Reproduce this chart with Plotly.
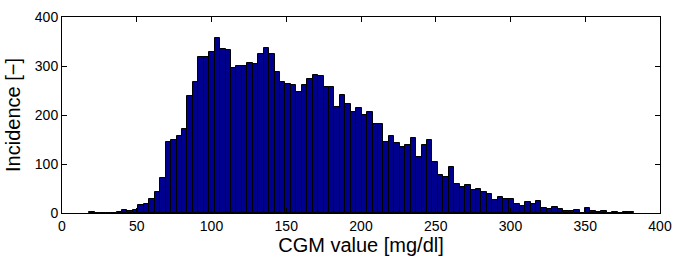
import plotly.graph_objects as go

# Histogram data (100 bins)
bin_start = 18.3
bin_width = 3.643
counts = [3, 1, 1, 1, 0, 2, 6, 5, 6, 17,
          19, 29, 42, 71, 145, 148, 158, 171, 238, 268,
          318, 318, 328, 357, 335, 332, 295, 299, 299, 307,
          305, 324, 337, 325, 288, 267, 264, 262, 246, 261,
          274, 281, 279, 257, 257, 217, 240, 223, 206, 215,
          200, 206, 182, 182, 145, 157, 142, 134, 139, 153,
          115, 139, 148, 104, 77, 73, 93, 60, 53, 57,
          46, 48, 43, 39, 26, 32, 29, 29, 18, 15,
          22, 19, 24, 10, 9, 12, 8, 4, 4, 6,
          1, 10, 5, 3, 5, 0, 2, 1, 2, 2]
centers = [bin_start + bin_width * (i + 0.5) for i in range(len(counts))]

x_ticks = [0, 50, 100, 150, 200, 250, 300, 350, 400]
y_ticks = [0, 100, 200, 300, 400]

fig = go.Figure(go.Bar(
    x=centers, y=counts, width=bin_width,
    marker=dict(color="#00008F", line=dict(color="black", width=1)),
))

font = "Liberation Sans, Arial, Helvetica, sans-serif"
fig.update_layout(
    width=673, height=259,
    margin=dict(l=62, r=13, t=17, b=46),
    paper_bgcolor="white", plot_bgcolor="white",
    bargap=0, showlegend=False,
    font=dict(family=font, size=14, color="black"),
)
fig.update_xaxes(
    range=[0, 400], tickvals=x_ticks, ticks="inside", ticklen=5,
    tickcolor="black", showline=True, linecolor="black", linewidth=1,
    mirror="ticks", showgrid=False, zeroline=False, automargin=False,
    tickfont=dict(size=14),
    title=dict(text="CGM value [mg/dl]", font=dict(size=20), standoff=4),
)
fig.update_yaxes(
    range=[0, 400], tickvals=y_ticks, ticks="inside", ticklen=5,
    tickcolor="black", showline=True, linecolor="black", linewidth=1,
    mirror="ticks", showgrid=False, zeroline=False, automargin=False,
    tickfont=dict(size=14),
    title=dict(text="Incidence [\u2212]", font=dict(size=20), standoff=8),
)

fig.write_html("out.html",
               config={"displayModeBar": False},
               post_script="document.body.style.margin='0';document.body.style.overflow='hidden';")
